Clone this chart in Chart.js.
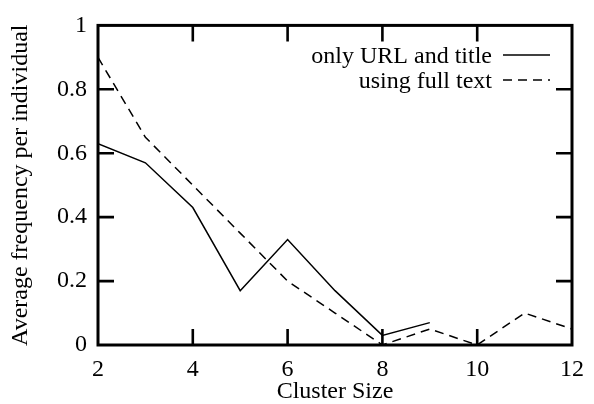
<!DOCTYPE html>
<html>
<head>
<meta charset="utf-8">
<script src="https://cdn.jsdelivr.net/npm/chart.js@4/dist/chart.umd.min.js"></script>
<style>
  html, body { margin: 0; padding: 0; background: #fff; }
  #wrap { width: 594px; height: 404px; position: relative; }
</style>
</head>
<body>
<div id="wrap"><canvas id="c" width="594" height="404"></canvas></div>
<script>
// ---- data ----
const clusterSizes = [2, 3, 4, 5, 6, 7, 8, 9, 10, 11, 12];
const urlTitleValues = [0.63, 0.57, 0.43, 0.17, 0.33, 0.17, 0.03, 0.07, null, null, null];
const fullTextValues = [0.90, 0.65, 0.50, 0.35, 0.20, 0.10, 0.00, 0.05, 0.00, 0.10, 0.05];
const seriesLabels = ['only URL and title', 'using full text'];
const xTitle = 'Cluster Size';
const yTitle = 'Average frequency per individual';

const FONT = "'Liberation Serif', 'Times New Roman', serif";

function toPoints(values) {
  const pts = [];
  clusterSizes.forEach((x, i) => { if (values[i] !== null) pts.push({ x: x, y: values[i] }); });
  return pts;
}

const framePlugin = {
  id: 'frame',
  afterDatasetsDraw(chart) {
    const ctx = chart.ctx;
    const a = chart.chartArea;
    const xs = chart.scales.x, ys = chart.scales.y;
    const tl = 16;
    ctx.save();
    ctx.strokeStyle = '#000';
    ctx.lineWidth = 2.6;
    ctx.lineCap = 'butt';
    ctx.beginPath();
    xs.ticks.forEach(t => {
      if (t.value <= xs.min || t.value >= xs.max) return;
      const px = xs.getPixelForValue(t.value);
      ctx.moveTo(px, a.bottom); ctx.lineTo(px, a.bottom - tl);
      ctx.moveTo(px, a.top); ctx.lineTo(px, a.top + tl);
    });
    ys.ticks.forEach(t => {
      if (t.value <= ys.min || t.value >= ys.max) return;
      const py = ys.getPixelForValue(t.value);
      ctx.moveTo(a.left, py); ctx.lineTo(a.left + tl, py);
      ctx.moveTo(a.right, py); ctx.lineTo(a.right - tl, py);
    });
    ctx.stroke();
    ctx.lineWidth = 3;
    ctx.lineJoin = 'miter';
    ctx.strokeRect(a.left, a.top, a.right - a.left, a.bottom - a.top);
    ctx.restore();
  }
};

const legendPlugin = {
  id: 'customLegend',
  afterDraw(chart) {
    const ctx = chart.ctx;
    ctx.save();
    ctx.font = '24px ' + FONT;
    ctx.fillStyle = '#000';
    ctx.textAlign = 'right';
    ctx.textBaseline = 'alphabetic';
    const textRight = 492, x0 = 503, x1 = 550;
    const rows = [55, 80];
    chart.data.datasets.forEach((ds, i) => {
      const y = rows[i];
      ctx.fillText(ds.label, textRight, y + 8);
      ctx.beginPath();
      ctx.setLineDash(ds.borderDash || []);
      ctx.lineWidth = ds.borderWidth;
      ctx.strokeStyle = ds.borderColor;
      ctx.moveTo(x0, y); ctx.lineTo(x1, y);
      ctx.stroke();
    });
    ctx.restore();
  }
};

new Chart(document.getElementById('c'), {
  type: 'line',
  data: {
    datasets: [
      {
        label: seriesLabels[0],
        data: toPoints(urlTitleValues),
        borderColor: '#000',
        borderWidth: 1.5,
        pointRadius: 0,
        fill: false,
        tension: 0
      },
      {
        label: seriesLabels[1],
        data: toPoints(fullTextValues),
        borderColor: '#000',
        borderWidth: 1.5,
        borderDash: [9, 6],
        pointRadius: 0,
        fill: false,
        tension: 0
      }
    ]
  },
  options: {
    responsive: false,
    animation: false,
    devicePixelRatio: 1,
    layout: { padding: { top: 14, right: 12, left: 0, bottom: 0 } },
    plugins: {
      legend: { display: false },
      tooltip: { enabled: false }
    },
    scales: {
      x: {
        type: 'linear',
        min: 2, max: 12,
        afterFit(s) { s.height = 59; },
        grid: { display: false, drawTicks: false },
        border: { display: false },
        ticks: { stepSize: 2, color: '#000', padding: 10, font: { family: FONT, size: 24 } },
        title: { display: true, text: xTitle, color: '#000', padding: { top: 0, bottom: -2 }, font: { family: FONT, size: 24 } }
      },
      y: {
        min: 0, max: 1,
        afterFit(s) { s.width = 98; },
        grid: { display: false, drawTicks: false },
        border: { display: false },
        ticks: {
          stepSize: 0.2, color: '#000', padding: 11, font: { family: FONT, size: 24 },
          callback: (v) => String(Math.round(v * 10) / 10)
        },
        title: { display: true, text: yTitle, color: '#000', padding: { top: 6, bottom: 0 }, font: { family: FONT, size: 24 } }
      }
    }
  },
  plugins: [framePlugin, legendPlugin]
});
</script>
</body>
</html>
